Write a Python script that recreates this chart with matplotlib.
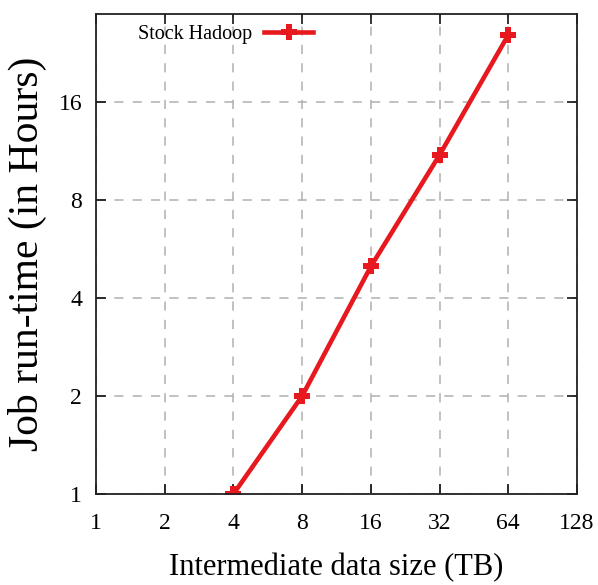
import matplotlib
matplotlib.use("Agg")
import matplotlib.pyplot as plt
from matplotlib.ticker import FixedLocator, FixedFormatter, NullLocator

data_size_tb = [4, 8, 16, 32, 64]
runtime_hours = [1.0, 2.0, 5.0, 11.0, 25.7]
x_ticks = [1, 2, 4, 8, 16, 32, 64, 128]
x_tick_labels = ["1", "2", "4", "8", "16", "32", "64", "128"]
y_ticks = [1, 2, 4, 8, 16]
y_tick_labels = ["1", "2", "4", "8", "16"]
series_name = "Stock Hadoop"

plt.rcParams['font.family'] = ['Liberation Serif', 'DejaVu Serif']

fig = plt.figure(figsize=(5.98, 5.85), dpi=100)
ax = fig.add_axes([96/598, 1-494/585, (577-96)/598, (494-14)/585])

ax.plot(data_size_tb, runtime_hours, color='#e8191e', lw=3.3, marker='P',
        markersize=12, markeredgewidth=0, label=series_name)

ax.set_xscale('log', base=2)
ax.set_yscale('log', base=2)
ax.set_xlim(1, 128)
ax.set_ylim(1, 29.8)
ax.xaxis.set_major_locator(FixedLocator(x_ticks))
ax.xaxis.set_major_formatter(FixedFormatter(x_tick_labels))
ax.yaxis.set_major_locator(FixedLocator(y_ticks))
ax.yaxis.set_major_formatter(FixedFormatter(y_tick_labels))
ax.xaxis.set_minor_locator(NullLocator())
ax.yaxis.set_minor_locator(NullLocator())

ax.grid(True, which='major', color='#b0b0b0', linestyle=(0, (6, 6)), linewidth=1.1)
ax.tick_params(direction='in', length=7, width=1.1, top=True, right=True,
               labelsize=17)
ax.tick_params(axis='x', pad=14)
ax.tick_params(axis='y', pad=10)
for s in ax.spines.values():
    s.set_linewidth(1.3)
    s.set_color('#222222')

ax.set_xlabel("Intermediate data size (TB)", fontsize=22, labelpad=13)
ax.set_ylabel("Job run-time (in Hours)", fontsize=30, labelpad=8)

ax.legend(loc='upper left', frameon=False, markerfirst=False, fontsize=14.5,
          handlelength=2.4, handletextpad=0.6, bbox_to_anchor=(0.05, 1.015))

fig.savefig("out.png", dpi=100)
